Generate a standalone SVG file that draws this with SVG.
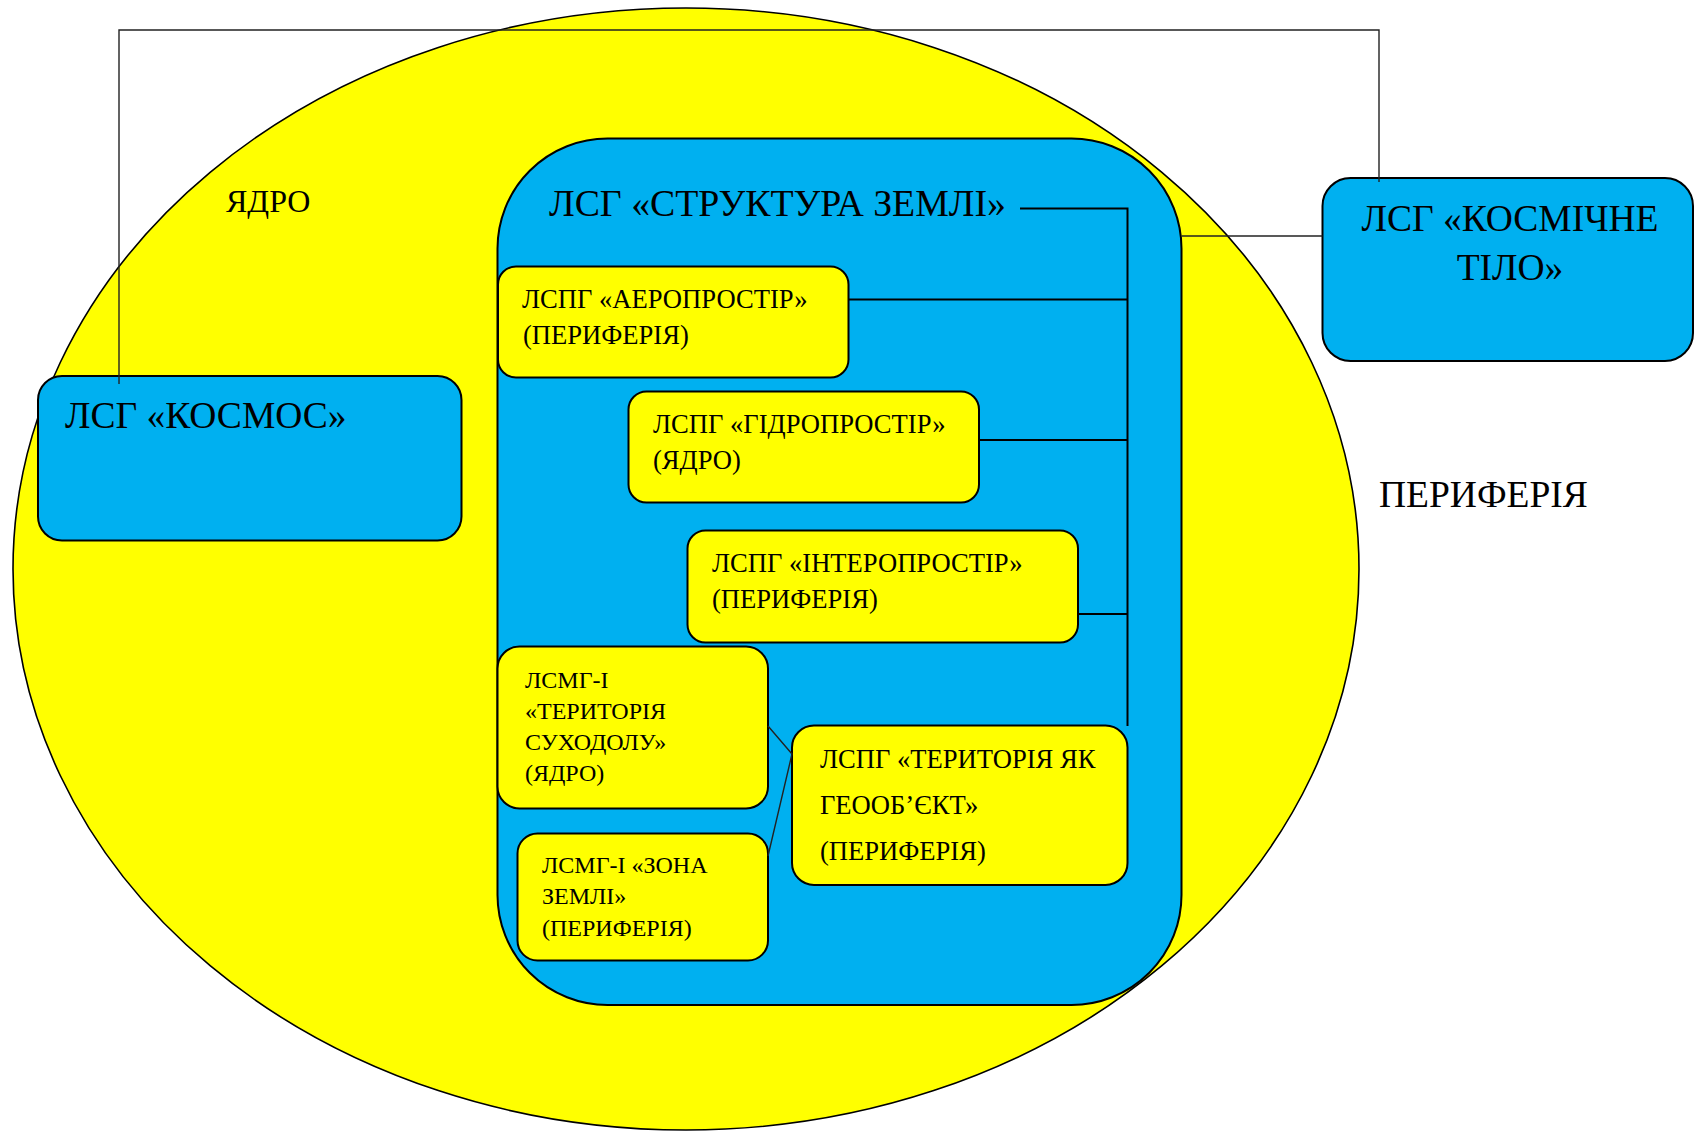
<svg xmlns="http://www.w3.org/2000/svg" width="1695" height="1131" viewBox="0 0 1695 1131">
  <style>
    text { font-family: "Liberation Serif", "Times New Roman", serif; fill: #000; }
    .blue { fill: #00B0F0; stroke: #000; stroke-width: 2; }
    .yel { fill: #FFFF00; stroke: #000; stroke-width: 2; }
    .big { font-size: 37.5px; }
    .mid { font-size: 26.6px; }
    .sm { font-size: 24px; }
    .link { fill: none; stroke: #000; stroke-width: 2; }
    .thin { fill: none; stroke: #222; stroke-width: 1.4; }
  </style>

  <rect x="0" y="0" width="1695" height="1131" fill="#fff"/>

  <!-- outer field -->
  <g id="field">
    <ellipse cx="686" cy="569" rx="673" ry="561" fill="#FFFF00" stroke="#000" stroke-width="1.6"/>
    <text x="226" y="212" style="font-size:32px">ЯДРО</text>
    <text x="1379" y="507" class="big">ПЕРИФЕРІЯ</text>
  </g>

  <!-- Earth structure container -->
  <g id="structure">
    <rect x="497.5" y="138.5" width="684" height="866.5" rx="110" ry="110" class="blue"/>
    <text x="549" y="216" class="big" style="font-size:37.8px">ЛСГ «СТРУКТУРА ЗЕМЛІ»</text>
  </g>

  <g id="kosmos">
    <rect x="38" y="376" width="423.5" height="164.5" rx="24" ry="24" class="blue"/>
    <text x="65" y="428" class="big">ЛСГ «КОСМОС»</text>
  </g>

  <g id="kosmichne-tilo">
    <rect x="1322.5" y="178" width="370.5" height="183" rx="28" ry="28" class="blue"/>
    <text x="1510" y="231" class="big" text-anchor="middle">ЛСГ «КОСМІЧНЕ</text>
    <text x="1510" y="280" class="big" text-anchor="middle">ТІЛО»</text>
  </g>

  <g id="aeroprostir">
    <rect x="498" y="266.5" width="350.5" height="111" rx="18" ry="18" class="yel"/>
    <text x="522" y="308" class="mid">ЛСПГ «АЕРОПРОСТІР»</text>
    <text x="523" y="344" class="mid">(ПЕРИФЕРІЯ)</text>
  </g>

  <g id="hidroprostir">
    <rect x="628.5" y="391.5" width="350.5" height="111" rx="18" ry="18" class="yel"/>
    <text x="653" y="433" class="mid">ЛСПГ «ГІДРОПРОСТІР»</text>
    <text x="653" y="469" class="mid">(ЯДРО)</text>
  </g>

  <g id="interoprostir">
    <rect x="687.5" y="530.5" width="390.5" height="112" rx="18" ry="18" class="yel"/>
    <text x="712" y="572" class="mid">ЛСПГ «ІНТЕРОПРОСТІР»</text>
    <text x="712" y="608" class="mid">(ПЕРИФЕРІЯ)</text>
  </g>

  <g id="terytoriia-sukhodolu">
    <rect x="497.5" y="646.5" width="270.5" height="162" rx="22" ry="22" class="yel"/>
    <text x="525" y="688" class="sm">ЛСМГ-І</text>
    <text x="525" y="719" class="sm">«ТЕРИТОРІЯ</text>
    <text x="525" y="750" class="sm">СУХОДОЛУ»</text>
    <text x="525" y="781" class="sm">(ЯДРО)</text>
  </g>

  <g id="zona-zemli">
    <rect x="517.5" y="833.5" width="250.5" height="127" rx="20" ry="20" class="yel"/>
    <text x="542" y="872.5" class="sm">ЛСМГ-І «ЗОНА</text>
    <text x="542" y="904" class="sm">ЗЕМЛІ»</text>
    <text x="542" y="936" class="sm">(ПЕРИФЕРІЯ)</text>
  </g>

  <g id="terytoriia-heoobiekt">
    <rect x="792" y="725.5" width="335.5" height="159.5" rx="22" ry="22" class="yel"/>
    <text x="820" y="768" class="mid">ЛСПГ «ТЕРИТОРІЯ ЯК</text>
    <text x="820" y="814" class="mid">ГЕООБ’ЄКТ»</text>
    <text x="820" y="860" class="mid">(ПЕРИФЕРІЯ)</text>
  </g>

  <!-- connectors -->
  <g id="connectors">
    <polyline class="thin" points="119,384 119,30 1379,30 1379,182"/>
    <line class="thin" x1="1181.5" y1="236" x2="1322.5" y2="236"/>
    <polyline class="link" points="1020,208.5 1127.5,208.5 1127.5,726"/>
    <line class="link" x1="848.5" y1="299.5" x2="1127.5" y2="299.5"/>
    <line class="link" x1="979" y1="440" x2="1127.5" y2="440"/>
    <line class="link" x1="1078" y1="614" x2="1127.5" y2="614"/>
    <polyline class="thin" points="768,726 792,754 768,856"/>
  </g>
</svg>
